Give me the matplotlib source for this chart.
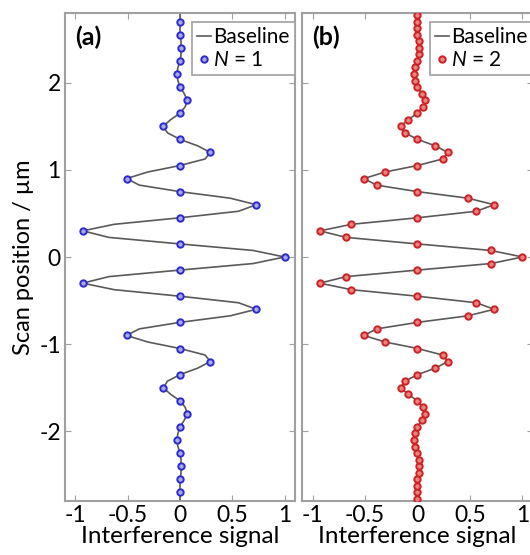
import numpy as np
import matplotlib
matplotlib.use("Agg")
import matplotlib.pyplot as plt

plt.rcParams['font.family'] = ['Lato', 'DejaVu Sans']
plt.rcParams['mathtext.fontset'] = 'custom'
plt.rcParams['mathtext.it'] = 'Lato:italic'
plt.rcParams['mathtext.rm'] = 'Lato'
plt.rcParams['axes.unicode_minus'] = False

# scan positions (um) on the fine grid, step 0.075
z_fine = np.linspace(-2.85, 2.85, 77)

# interference signal, positive half (z = 0 ... 2.85)
half = [1.00, 0.70, 0.00, -0.68, -0.93, -0.63, 0.00, 0.56, 0.73, 0.48,
        0.00, -0.39, -0.51, -0.31, 0.00, 0.24, 0.29, 0.17, 0.00, -0.12,
        -0.16, -0.09, 0.00, 0.05, 0.07, 0.04, 0.00, -0.02, -0.03, -0.02,
        0.00, 0.01, 0.01, 0.01, 0.00, 0.00, 0.00, 0.00, 0.00]
signal = np.array(half[:0:-1] + half)

# N = 1 samples every 0.15 um (-2.7 ... 2.7), N = 2 every 0.075 um
z_n1 = z_fine[2:-2:2]
s_n1 = signal[2:-2:2]
z_n2 = z_fine[1:-1]
s_n2 = signal[1:-1]

spine_col = '#a0a0a0'

fig = plt.figure(figsize=(5.3, 5.55), dpi=100)
ax1 = fig.add_axes([65/530, 54/555, 230/530, 488/555])
ax2 = fig.add_axes([302/530, 54/555, 231/530, 488/555])

panels = [(ax1, z_n1, s_n1, '#2a2ad0', '#a8a8ee', '$N$ = 1', '(a)'),
          (ax2, z_n2, s_n2, '#cc2222', '#ee8080', '$N$ = 2', '(b)')]

for ax, zp, sp, ec, fc, lab, tag in panels:
    ax.plot(signal, z_fine, color='#5a5a5a', lw=1.2, label='Baseline', zorder=2)
    ax.plot(sp, zp, ls='none', marker='o', ms=4.6, mew=1.4, mec=ec, mfc=fc,
            label=lab, zorder=3)
    ax.set_xlim(-1.1, 1.1)
    ax.set_ylim(-2.8, 2.8)
    ax.set_xticks([-1, -0.5, 0, 0.5, 1])
    ax.set_xticklabels(['-1', '-0.5', '0', '0.5', '1'])
    ax.set_yticks([-2, -1, 0, 1, 2])
    ax.tick_params(direction='in', top=True, right=True, length=4,
                   color=spine_col, labelsize=16.5, pad=3)
    for s in ax.spines.values():
        s.set_color(spine_col)
        s.set_linewidth(1.5)
    ax.set_xlabel('Interference signal', fontsize=17.5, labelpad=0)
    ax.text(0.045, 0.975, tag, transform=ax.transAxes, fontsize=18,
            fontweight='bold', va='top', ha='left')
    leg = ax.legend(loc='upper right', bbox_to_anchor=(1.0, 0.982),
                    borderaxespad=0, fontsize=15, handlelength=0.7,
                    handletextpad=0.1, borderpad=0.25, labelspacing=0.15,
                    fancybox=False, framealpha=1)
    leg.get_frame().set_edgecolor(spine_col)
    leg.get_frame().set_linewidth(1.2)

ax1.set_yticklabels(['-2', '-1', '0', '1', '2'])
ax1.set_ylabel('Scan position / µm', fontsize=17, labelpad=4)
ax2.set_yticklabels([])

fig.savefig('out.png', dpi=100)
